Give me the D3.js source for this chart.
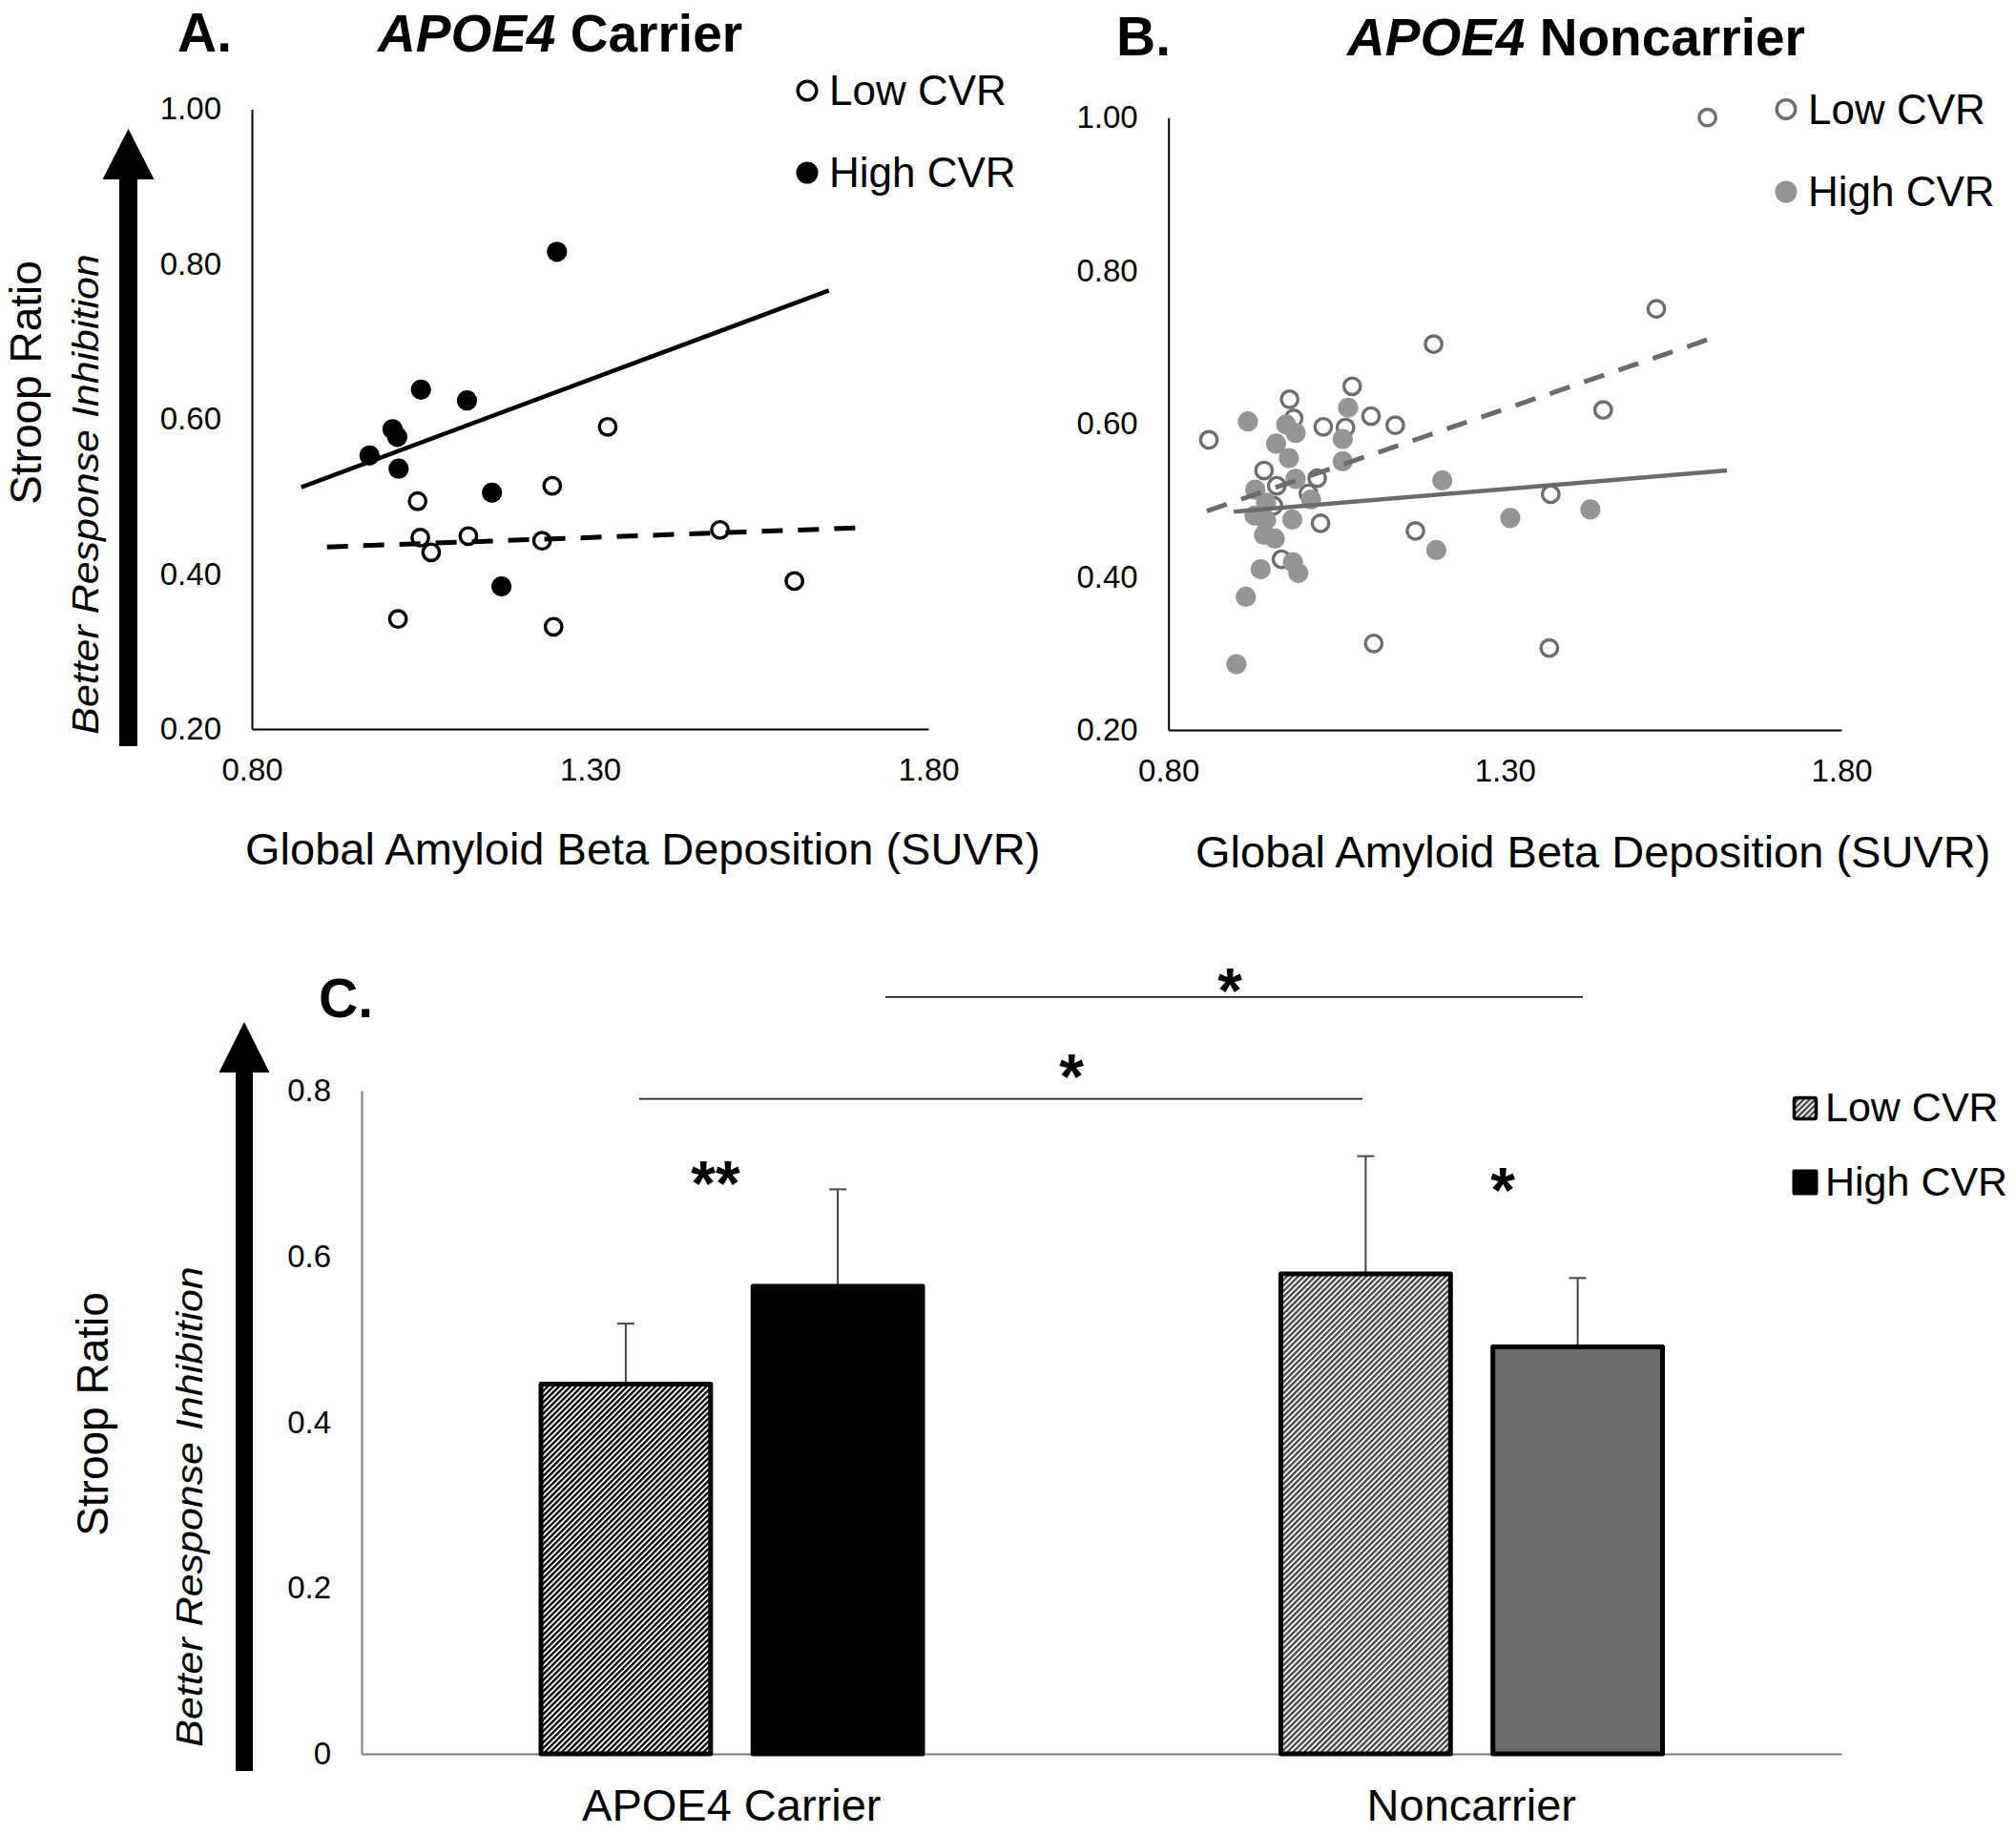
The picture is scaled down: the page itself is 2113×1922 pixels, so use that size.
<!DOCTYPE html>
<html>
<head>
<meta charset="utf-8">
<script src="https://cdn.jsdelivr.net/npm/d3@7"></script>
<style>
  html, body { margin: 0; padding: 0; background: #fff; }
  svg { display: block; }
  text { font-family: "Liberation Sans", Arial, Helvetica, sans-serif; }
</style>
</head>
<body>
<script>
// ---------------- DATA ----------------
// Panel A: APOE4 carriers
const carrierLowX  = [1.326, 1.244, 1.045, 1.049, 1.120, 1.065, 1.229, 1.492, 1.602, 1.016, 1.246];
const carrierLowY  = [0.590, 0.514, 0.494, 0.447, 0.449, 0.428, 0.443, 0.457, 0.391, 0.342, 0.332];
const carrierHighX = [1.251, 1.050, 1.118, 1.008, 1.015, 0.974, 1.017, 1.155, 1.169];
const carrierHighY = [0.816, 0.638, 0.624, 0.587, 0.577, 0.553, 0.536, 0.505, 0.384];
const carrierLowTrendX  = [0.911, 1.708];
const carrierLowTrendY  = [0.435, 0.460];
const carrierHighTrendX = [0.873, 1.653];
const carrierHighTrendY = [0.512, 0.766];

// Panel B: APOE4 noncarriers
const nonLowX = [1.601, 1.525, 1.194, 1.446, 1.073, 0.980, 0.986, 1.101, 1.137, 1.030, 1.063, 0.860,
                 0.942, 0.961, 1.021, 0.956, 1.008, 1.026, 1.167, 0.968, 1.368, 1.105, 1.366];
const nonLowY = [1.000, 0.750, 0.704, 0.618, 0.649, 0.632, 0.607, 0.610, 0.598, 0.596, 0.595, 0.579,
                 0.539, 0.519, 0.529, 0.493, 0.509, 0.470, 0.460, 0.423, 0.508, 0.313, 0.307];
const nonHighX = [0.918, 1.067, 0.975, 0.989, 0.960, 1.059, 0.979, 1.059, 0.989, 0.929, 1.012, 0.945, 0.928,
                  0.945, 0.984, 0.942, 0.958, 1.207, 1.198, 0.985, 0.993, 0.937, 0.915, 0.901, 1.308, 1.427];
const nonHighY = [0.603, 0.621, 0.599, 0.588, 0.574, 0.580, 0.555, 0.551, 0.528, 0.514, 0.501, 0.497, 0.480,
                  0.474, 0.475, 0.455, 0.450, 0.526, 0.435, 0.419, 0.405, 0.410, 0.374, 0.286, 0.477, 0.488];
const nonLowTrendX  = [0.857, 1.605];
const nonLowTrendY  = [0.486, 0.711];
const nonHighTrendX = [0.897, 1.630];
const nonHighTrendY = [0.485, 0.539];

const scatterYTicks = [0.20, 0.40, 0.60, 0.80, 1.00];
const scatterXTicks = [0.80, 1.30, 1.80];

// Panel C: bar chart
const groups = ["APOE4 Carrier", "Noncarrier"];
const cvrLevels = ["Low CVR", "High CVR"];
const barMeans = [[0.446, 0.564], [0.579, 0.491]];
const barErrTop = [[0.519, 0.681], [0.721, 0.574]];
const barYTicks = [0, 0.2, 0.4, 0.6, 0.8];
const sigBrackets = [
  { y: 0.913, x1: 928, x2: 1659, starX: 1289, starY: 1061, label: "*" },
  { y: 0.790, x1: 670, x2: 1428, starX: 1123, starY: 1151, label: "*" }
];
const withinStars = [
  { x: 750, y: 1263, label: "**" },
  { x: 1575, y: 1270, label: "*" }
];

// ---------------- DRAW ----------------
const W = 2113, H = 1922;
const svg = d3.select("body").append("svg").attr("width", W).attr("height", H);
const FONT = '"Liberation Sans", Arial, Helvetica, sans-serif';

const defs = svg.append("defs");
function hatch(id, color, w) {
  const p = defs.append("pattern").attr("id", id).attr("patternUnits", "userSpaceOnUse")
    .attr("width", 4.2).attr("height", 10).attr("patternTransform", "rotate(45)");
  p.append("rect").attr("width", 4.2).attr("height", 10).attr("fill", "#fff");
  p.append("rect").attr("width", w).attr("height", 10).attr("fill", color);
}
hatch("hatchBlack", "#000", 2.3);
hatch("hatchGray", "#4a4a4a", 2.4);

function arrow(g, cx, tipY, baseY, bottomY, headW, shaftW) {
  const p = d3.path();
  p.moveTo(cx, tipY);
  p.lineTo(cx + headW / 2, baseY);
  p.lineTo(cx + shaftW / 2, baseY);
  p.lineTo(cx + shaftW / 2, bottomY);
  p.lineTo(cx - shaftW / 2, bottomY);
  p.lineTo(cx - shaftW / 2, baseY);
  p.lineTo(cx - headW / 2, baseY);
  p.closePath();
  g.append("path").attr("d", p.toString()).attr("fill", "#000");
}

function yLabels(g, x1, x2, cy, cy2) {
  g.append("text").attr("transform", `translate(${x1},${cy}) rotate(-90)`)
    .attr("text-anchor", "middle").attr("font-size", 46).attr("fill", "#000").text("Stroop Ratio");
  const t = g.append("text").attr("transform", `translate(${x2},${cy2}) rotate(-90) scale(1.13,1)`)
    .attr("text-anchor", "middle").attr("font-size", 38).attr("font-style", "italic").attr("fill", "#000");
  t.append("tspan").text("Better Response ");
  t.append("tspan").text("Inhibition");
}

function scatterPanel(opt) {
  const g = svg.append("g");
  const x = d3.scaleLinear().domain([0.8, 1.8]).range(opt.xRange);
  const y = d3.scaleLinear().domain([0.2, 1.0]).range(opt.yRange);

  const ya = g.append("g").attr("transform", `translate(${opt.xRange[0]},0)`)
    .call(d3.axisLeft(y).tickValues(scatterYTicks).tickSize(0).tickSizeOuter(0).tickPadding(32).tickFormat(d3.format(".2f")));
  const xa = g.append("g").attr("transform", `translate(0,${opt.yRange[0]})`)
    .call(d3.axisBottom(x).tickValues(scatterXTicks).tickSize(0).tickSizeOuter(0).tickPadding(31).tickFormat(d3.format(".2f")));
  [ya, xa].forEach(a => {
    a.select(".domain").attr("stroke", "#000").attr("stroke-width", 2);
    a.selectAll("text").attr("font-size", 33).attr("font-family", FONT).attr("fill", "#000");
  });

  g.append("g").selectAll("circle").data(opt.lowX.map((v, i) => [v, opt.lowY[i]])).join("circle")
    .attr("cx", d => x(d[0])).attr("cy", d => y(d[1])).attr("r", 8.7)
    .attr("fill", "#fff").attr("stroke", opt.lowStroke).attr("stroke-width", 3.4);
  g.append("g").selectAll("circle").data(opt.highX.map((v, i) => [v, opt.highY[i]])).join("circle")
    .attr("cx", d => x(d[0])).attr("cy", d => y(d[1])).attr("r", 10.6)
    .attr("fill", opt.highFill);

  const line = d3.line().x(d => x(d[0])).y(d => y(d[1]));
  g.append("path").attr("d", line(opt.lowTX.map((v, i) => [v, opt.lowTY[i]])))
    .attr("stroke", opt.lineColor).attr("stroke-width", 5).attr("fill", "none")
    .attr("stroke-dasharray", "22,16");
  g.append("path").attr("d", line(opt.highTX.map((v, i) => [v, opt.highTY[i]])))
    .attr("stroke", opt.lineColor).attr("stroke-width", 4.5).attr("fill", "none");

  const lg = g.append("g");
  lg.append("circle").attr("cx", opt.legX).attr("cy", opt.legY[0]).attr("r", 9.8)
    .attr("fill", "#fff").attr("stroke", opt.lowStroke).attr("stroke-width", 3.4);
  lg.append("circle").attr("cx", opt.legX).attr("cy", opt.legY[1]).attr("r", 11.5).attr("fill", opt.highFill);
  lg.append("text").attr("x", opt.legX + 23).attr("y", opt.legY[0] + 15).attr("font-size", 44).text(cvrLevels[0]);
  lg.append("text").attr("x", opt.legX + 23).attr("y", opt.legY[1] + 15).attr("font-size", 44).text(cvrLevels[1]);

  g.append("text").attr("x", opt.letterX).attr("y", opt.titleY).attr("font-size", 57).attr("font-weight", "bold").text(opt.letter);
  const t = g.append("text").attr("x", opt.titleX).attr("y", opt.titleY).attr("font-size", 55).attr("font-weight", "bold");
  t.append("tspan").attr("font-style", "italic").text("APOE4");
  t.append("tspan").text(" " + opt.title);

  g.append("text").attr("x", opt.xTitleX).attr("y", opt.xTitleY).attr("font-size", 47).text("Global Amyloid Beta Deposition (SUVR)");
  return g;
}

const gA = scatterPanel({
  xRange: [264, 973], yRange: [764, 114.4],
  lowX: carrierLowX, lowY: carrierLowY, highX: carrierHighX, highY: carrierHighY,
  lowTX: carrierLowTrendX, lowTY: carrierLowTrendY, highTX: carrierHighTrendX, highTY: carrierHighTrendY,
  lowStroke: "#000", highFill: "#000", lineColor: "#000",
  legX: 846, legY: [95, 181],
  letter: "A.", letterX: 186, title: "Carrier", titleX: 396, titleY: 54,
  xTitleX: 257, xTitleY: 906
});
arrow(gA, 134.5, 135, 188, 782, 54, 19);
yLabels(gA, 43, 103, 401, 518);

scatterPanel({
  xRange: [1224.7, 1930], yRange: [765, 123.2],
  lowX: nonLowX, lowY: nonLowY, highX: nonHighX, highY: nonHighY,
  lowTX: nonLowTrendX, lowTY: nonLowTrendY, highTX: nonHighTrendX, highTY: nonHighTrendY,
  lowStroke: "#6e6e6e", highFill: "#959595", lineColor: "#6b6b6b",
  legX: 1872, legY: [114.5, 201],
  letter: "B.", letterX: 1170, title: "Noncarrier", titleX: 1412, titleY: 58,
  xTitleX: 1253, xTitleY: 909
});

// ---------------- Panel C ----------------
const gC = svg.append("g");
const xC = d3.scaleBand().domain(groups).range([379, 1930]);
const xInner = d3.scaleBand().domain(cvrLevels).range([188, 588]).paddingInner(0.2);
const yC = d3.scaleLinear().domain([0, 0.8]).range([1838, 1143]);

const yaC = gC.append("g").attr("transform", "translate(379,0)")
  .call(d3.axisLeft(yC).tickValues(barYTicks).tickSize(0).tickSizeOuter(0).tickPadding(32)
    .tickFormat(d => d === 0 ? "0" : d3.format(".1f")(d)));
const xaC = gC.append("g").attr("transform", "translate(0,1838)")
  .call(d3.axisBottom(xC).tickSize(0).tickSizeOuter(0).tickPadding(37));
[yaC, xaC].forEach(a => {
  a.select(".domain").attr("stroke", "#7a7a7a").attr("stroke-width", 2);
  a.selectAll("text").attr("font-size", 33).attr("font-family", FONT).attr("fill", "#000");
});
xaC.selectAll("text").attr("font-size", 47);

const barFills = [["url(#hatchBlack)", "#000"], ["url(#hatchGray)", "#6b6b6b"]];
const barData = [];
groups.forEach((gname, gi) => cvrLevels.forEach((lv, li) => barData.push({
  g: gname, lv, v: barMeans[gi][li], e: barErrTop[gi][li], fill: barFills[gi][li]
})));

const bx = d => xC(d.g) + xInner(d.lv);
gC.append("g").selectAll("g").data(barData).join("g").each(function (d) {
  const cx = bx(d) + xInner.bandwidth() / 2;
  const s = d3.select(this);
  s.append("line").attr("x1", cx).attr("x2", cx).attr("y1", yC(d.v)).attr("y2", yC(d.e))
    .attr("stroke", "#444").attr("stroke-width", 2);
  s.append("line").attr("x1", cx - 9).attr("x2", cx + 9).attr("y1", yC(d.e)).attr("y2", yC(d.e))
    .attr("stroke", "#444").attr("stroke-width", 2);
});
gC.append("g").selectAll("rect").data(barData).join("rect")
  .attr("x", d => bx(d)).attr("y", d => yC(d.v))
  .attr("width", xInner.bandwidth()).attr("height", d => yC(0) - yC(d.v))
  .attr("fill", d => d.fill).attr("stroke", "#000").attr("stroke-width", 5).attr("stroke-linejoin", "round");

sigBrackets.forEach(s => {
  gC.append("line").attr("x1", s.x1).attr("x2", s.x2).attr("y1", yC(s.y)).attr("y2", yC(s.y))
    .attr("stroke", "#222").attr("stroke-width", 1.8);
  gC.append("text").attr("x", s.starX).attr("y", s.starY).attr("text-anchor", "middle")
    .attr("font-size", 66).attr("font-weight", "bold").text(s.label);
});
withinStars.forEach(s => {
  gC.append("text").attr("x", s.x).attr("y", s.y).attr("text-anchor", "middle")
    .attr("font-size", 66).attr("font-weight", "bold").text(s.label);
});

const lgC = gC.append("g");
lgC.append("rect").attr("x", 1880.5).attr("y", 1150.5).attr("width", 23).attr("height", 22)
  .attr("fill", "url(#hatchGray)").attr("stroke", "#000").attr("stroke-width", 3.5).attr("rx", 2);
lgC.append("rect").attr("x", 1878.5).attr("y", 1225.5).attr("width", 27).attr("height", 27)
  .attr("fill", "#000").attr("rx", 2);
lgC.append("text").attr("x", 1913).attr("y", 1175).attr("font-size", 43).text(cvrLevels[0]);
lgC.append("text").attr("x", 1913).attr("y", 1252.5).attr("font-size", 43).text(cvrLevels[1]);

gC.append("text").attr("x", 334).attr("y", 1066).attr("font-size", 57).attr("font-weight", "bold").text("C.");
arrow(gC, 256, 1071, 1124, 1856, 53, 18);
yLabels(gC, 113, 212, 1482, 1579);
</script>
</body>
</html>
